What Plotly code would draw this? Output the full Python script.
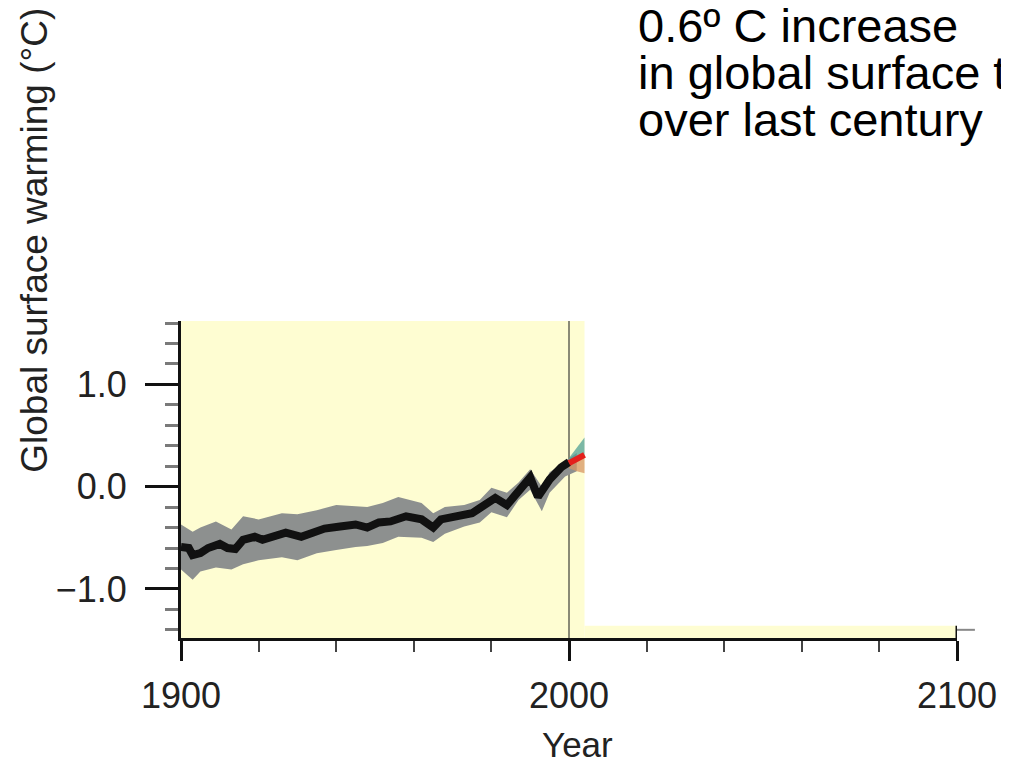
import plotly.graph_objects as go

# ---------------- data ----------------
obs_years = [1900, 1902, 1903, 1905, 1907, 1910, 1912, 1914, 1916, 1919, 1921, 1924,
             1927, 1931, 1935, 1937, 1941, 1945, 1948, 1951, 1954, 1958, 1962, 1965,
             1967, 1971, 1975, 1977, 1978, 1981, 1984, 1987, 1990, 1992, 1995, 1998, 2000]
obs_temp = [-0.59, -0.60, -0.67, -0.65, -0.60, -0.56, -0.60, -0.61, -0.52, -0.49, -0.52, -0.49,
            -0.45, -0.49, -0.44, -0.41, -0.39, -0.37, -0.40, -0.35, -0.34, -0.29, -0.32, -0.40,
            -0.32, -0.29, -0.26, -0.21, -0.18, -0.11, -0.18, -0.03, 0.09, -0.10, 0.07, 0.19, 0.24]

band_years = [1900, 1903, 1905, 1909, 1913, 1916, 1920, 1926, 1930, 1935, 1940, 1945, 1948,
              1952, 1956, 1962, 1965, 1968, 1973, 1977, 1980, 1984, 1987, 1990, 1993, 1995,
              1999, 2002]
band_upper = [-0.37, -0.44, -0.40, -0.34, -0.42, -0.29, -0.32, -0.26, -0.27, -0.23, -0.18,
              -0.19, -0.20, -0.16, -0.10, -0.16, -0.26, -0.20, -0.18, -0.13, -0.01, -0.06,
              0.04, 0.17, 0.00, 0.14, 0.25, 0.33]
band_lower = [-0.81, -0.91, -0.83, -0.79, -0.81, -0.76, -0.72, -0.69, -0.72, -0.65, -0.62,
              -0.59, -0.58, -0.55, -0.49, -0.50, -0.54, -0.46, -0.39, -0.35, -0.25, -0.30,
              -0.13, -0.03, -0.24, -0.06, 0.10, 0.15]

proj_years = [2000, 2002, 2004]
proj_mid = [0.23, 0.27, 0.31]
proj_upper = [0.28, 0.38, 0.48]
proj_lower = [0.18, 0.15, 0.13]

x_tick_step = 100
x_minor_step = 20
y_minor_step = 0.2
note_lines = ["0.6º C increase", "in global surface temperature", "over last century"]
y_title = "Global surface warming (°C)"
x_title = "Year"

# ---------------- styling ----------------
FONT = "Liberation Sans, Arial, Helvetica, sans-serif"
YELLOW = "#FEFDD2"
X_RANGE = [1900, 2100]
Y_RANGE = [-1.48, 1.62]
SHOWN_END = 2004
STRIP_TOP = -1.36

fig = go.Figure()

fig.add_trace(go.Scatter(x=band_years, y=band_upper, mode="lines", line=dict(width=0),
                         hoverinfo="skip", showlegend=False))
fig.add_trace(go.Scatter(x=band_years, y=band_lower, mode="lines", line=dict(width=0),
                         fill="tonexty", fillcolor="#8D908F", hoverinfo="skip", showlegend=False))

fig.add_trace(go.Scatter(x=proj_years, y=proj_upper, mode="lines", line=dict(width=0),
                         hoverinfo="skip", showlegend=False))
fig.add_trace(go.Scatter(x=proj_years, y=proj_mid, mode="lines", line=dict(width=0),
                         fill="tonexty", fillcolor="rgba(80,160,150,0.75)", hoverinfo="skip",
                         showlegend=False))
fig.add_trace(go.Scatter(x=proj_years, y=proj_lower, mode="lines", line=dict(width=0),
                         fill="tonexty", fillcolor="rgba(215,150,100,0.75)", hoverinfo="skip",
                         showlegend=False))

fig.add_trace(go.Scatter(x=obs_years, y=obs_temp, mode="lines",
                         line=dict(color="#111111", width=8), showlegend=False))
fig.add_trace(go.Scatter(x=proj_years, y=proj_mid, mode="lines",
                         line=dict(color="#E4201C", width=6), showlegend=False))

# background panels and reference line
fig.add_shape(type="rect", xref="x", yref="y", x0=X_RANGE[0], x1=SHOWN_END,
              y0=Y_RANGE[0], y1=Y_RANGE[1], fillcolor=YELLOW, line=dict(width=0), layer="below")
fig.add_shape(type="rect", xref="x", yref="y", x0=SHOWN_END, x1=X_RANGE[1],
              y0=Y_RANGE[0], y1=STRIP_TOP, fillcolor=YELLOW, line=dict(width=0), layer="below")
fig.add_shape(type="line", xref="x", yref="y", x0=2000, x1=2000, y0=Y_RANGE[0], y1=Y_RANGE[1],
              line=dict(color="#8A8A76", width=2), layer="below")
fig.add_shape(type="line", xref="x", yref="y", x0=X_RANGE[1], x1=X_RANGE[1],
              y0=Y_RANGE[0], y1=STRIP_TOP, line=dict(color="#111111", width=3))

# the page body puts the figure 8px in from the window's top-left corner
OFF = 8
WIN_W, WIN_H = 1009, 762
W, H = WIN_W - OFF, WIN_H - OFF
PLOT_L, PLOT_R, PLOT_T, PLOT_B = 181, 961, 321, 638      # window pixels
ML, MT = PLOT_L - OFF, PLOT_T - OFF
MR, MB = WIN_W - PLOT_R, WIN_H - PLOT_B
PW, PH = PLOT_R - PLOT_L, PLOT_B - PLOT_T


def px_to_paper_x(px):
    return (px - PLOT_L) / PW


def px_to_paper_y(py):
    return (PLOT_B - py) / PH


# small outward tick on the right edge at -1.4
fig.add_shape(type="line", xref="paper", yref="y", x0=1.0, x1=px_to_paper_x(PLOT_R + 18),
              y0=-1.4, y1=-1.4, line=dict(color="#888888", width=2))

note_centers = [25, 72, 120]
for text, cy in zip(note_lines, note_centers):
    fig.add_annotation(text=text, xref="paper", yref="paper", x=px_to_paper_x(638),
                       y=px_to_paper_y(cy), xanchor="left", yanchor="middle", showarrow=False,
                       font=dict(family=FONT, size=47, color="#000000"))

fig.add_annotation(text=y_title, xref="paper", yref="paper", x=px_to_paper_x(33),
                   y=px_to_paper_y(240), xanchor="center", yanchor="middle", textangle=-90,
                   showarrow=False, font=dict(family=FONT, size=37, color="#222222"))
fig.add_annotation(text=x_title, xref="paper", yref="paper", x=px_to_paper_x(580),
                   y=px_to_paper_y(744), xanchor="center", yanchor="middle",
                   showarrow=False, font=dict(family=FONT, size=35, color="#222222"))

fig.update_xaxes(range=X_RANGE, tick0=1900, dtick=x_tick_step, ticks="outside", ticklen=20,
                 tickwidth=3, tickcolor="#111111", showline=True, linecolor="#111111",
                 linewidth=3, showgrid=False, zeroline=False, ticklabelstandoff=4,
                 ticklabeloverflow="allow",
                 tickfont=dict(family=FONT, size=36, color="#222222"),
                 minor=dict(tick0=1900, dtick=x_minor_step, ticks="outside", ticklen=11,
                            tickwidth=2, tickcolor="#444444", showgrid=False))
fig.update_yaxes(range=Y_RANGE, tick0=0, dtick=1, tickformat=".1f", ticks="outside",
                 ticklen=33, tickwidth=2.5, tickcolor="#111111", showline=True,
                 linecolor="#111111", linewidth=3, showgrid=False, zeroline=False,
                 ticklabelstandoff=11, ticklabeloverflow="allow",
                 tickfont=dict(family=FONT, size=36, color="#222222"),
                 minor=dict(tick0=0, dtick=y_minor_step, ticks="outside", ticklen=13,
                            tickwidth=2.5, tickcolor="#7A7A7A", showgrid=False))

fig.update_layout(width=W, height=H, margin=dict(l=ML, r=MR, t=MT, b=MB, pad=0),
                  paper_bgcolor="white", plot_bgcolor="white", showlegend=False,
                  font=dict(family=FONT))

fig.write_html("out.html")
